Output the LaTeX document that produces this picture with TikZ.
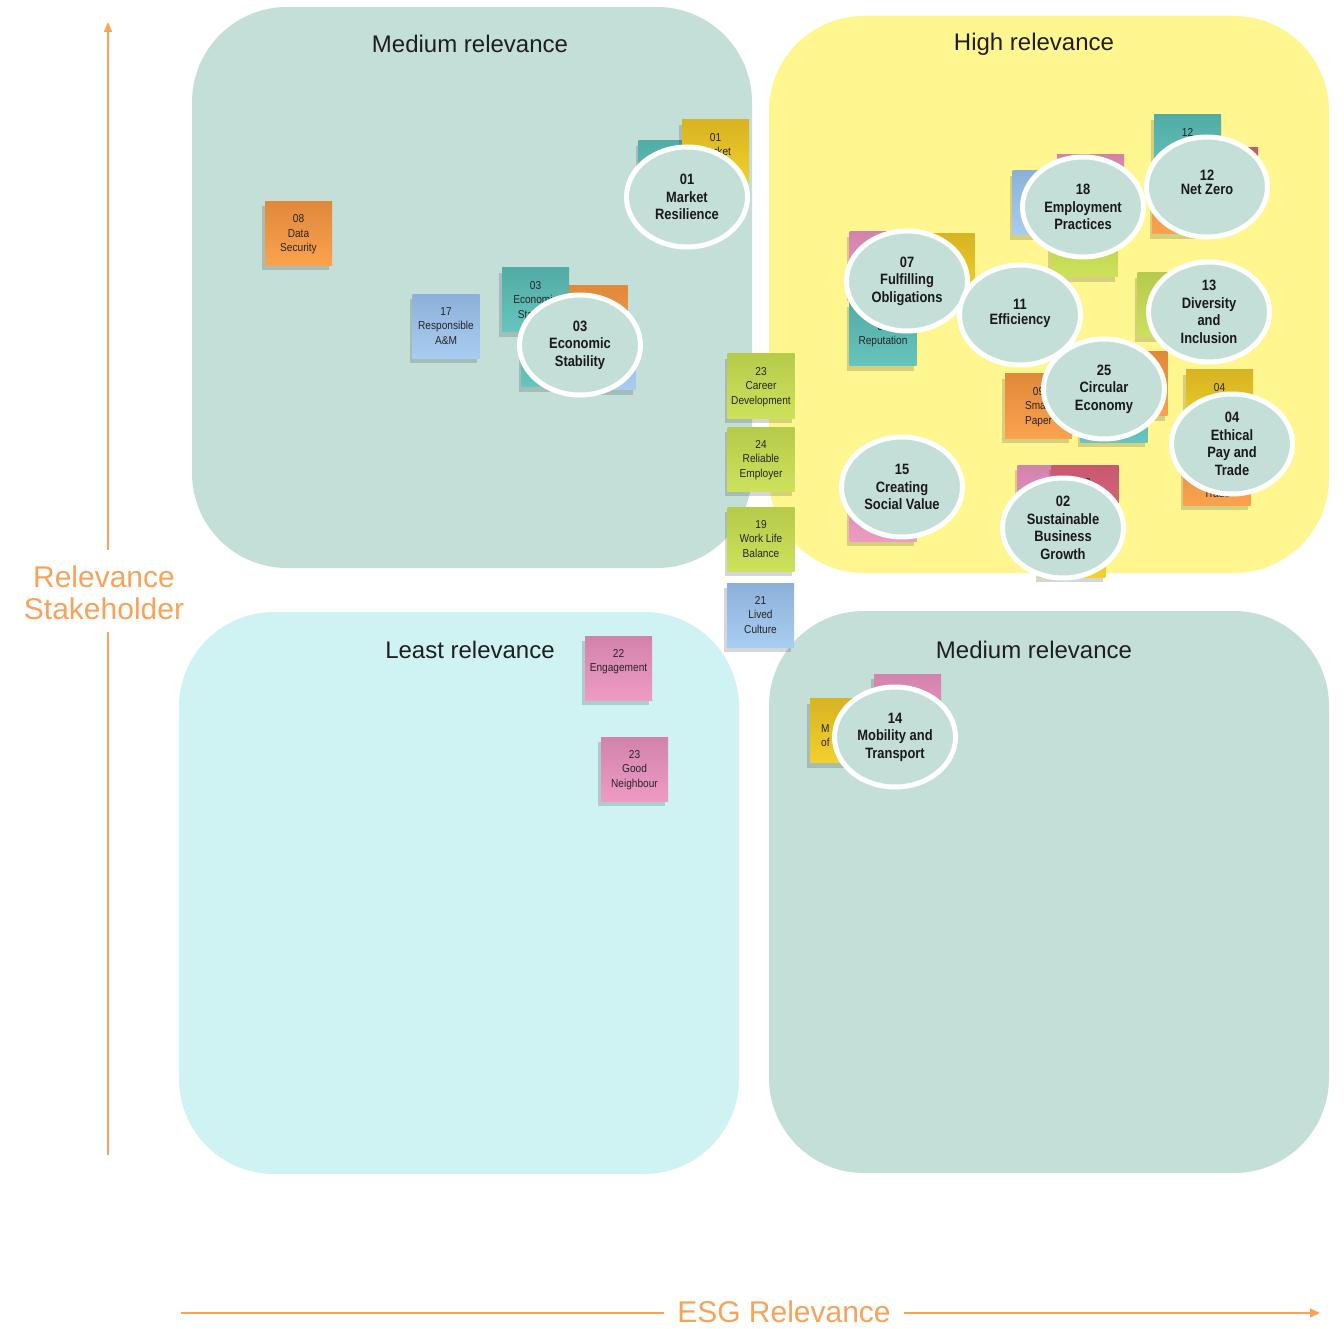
\documentclass[tikz,border=0pt]{standalone}
\usepackage{fontspec}
\setmainfont{Liberation Sans}
\newfontfamily\stfont[FakeStretch=0.88]{Liberation Sans}
\newfontfamily\cfont[FakeStretch=0.86]{Liberation Sans}
\usetikzlibrary{shapes.geometric,shadows,arrows.meta}
\definecolor{panelA}{HTML}{C3DFD8}
\definecolor{panelY}{HTML}{FFF68F}
\definecolor{panelC}{HTML}{CFF3F3}
\definecolor{circfill}{HTML}{C4DFD8}
\definecolor{axisor}{HTML}{F9A25A}
\definecolor{orTop}{HTML}{E0893B}\definecolor{orBot}{HTML}{FBA24E}
\definecolor{blTop}{HTML}{8DB0D8}\definecolor{blBot}{HTML}{A8CDF2}
\definecolor{teTop}{HTML}{52ACA6}\definecolor{teBot}{HTML}{66C5BE}
\definecolor{yeTop}{HTML}{D7B421}\definecolor{yeBot}{HTML}{F3D02D}
\definecolor{grTop}{HTML}{B5CB4A}\definecolor{grBot}{HTML}{CDE15B}
\definecolor{piTop}{HTML}{D283AC}\definecolor{piBot}{HTML}{EE9BC3}
\definecolor{reTop}{HTML}{C8586F}\definecolor{reBot}{HTML}{DE6883}
\tikzset{
  panel/.style={rounded corners=95pt},
  ptitle/.style={font=\fontsize{24}{28}\selectfont, text=black!88, inner sep=0},
  stickybox/.style={minimum width=67pt, minimum height=64pt, inner sep=0,
    drop shadow={shadow xshift=-3pt,shadow yshift=-5pt,opacity=.2,fill=black!80}},
  stickytext/.style={inner sep=0, align=center, text=black!85,
    font=\stfont\fontsize{11.5}{14.5}\selectfont},
  sor/.style={top color=orTop,bottom color=orBot},
  sbl/.style={top color=blTop,bottom color=blBot},
  ste/.style={top color=teTop,bottom color=teBot},
  sye/.style={top color=yeTop,bottom color=yeBot},
  sgr/.style={top color=grTop,bottom color=grBot},
  spi/.style={top color=piTop,bottom color=piBot},
  sre/.style={top color=reTop,bottom color=reBot},
  circ/.style={ellipse, draw=white, line width=5pt, fill=circfill,
    minimum width=121pt, minimum height=100pt, inner sep=0, align=center,
    font=\cfont\bfseries\fontsize{15}{17.5}\selectfont, text=black!90},
  axislbl/.style={text=axisor, inner sep=0, align=center,
    font=\fontsize{30}{32}\selectfont},
  axisline/.style={draw=axisor, line width=1.4pt},
}
\newcommand\stk[5]{%
  \node[stickybox,#4] (#1) at (#2,#3) {};
  \node[stickytext, anchor=north] (#1t) at ([yshift=-13pt]#1.north) {#5};}
\newcommand\stkb[4]{%
  \node[stickybox,#4] (#1) at (#2,#3) {};}

\begin{document}
\begin{tikzpicture}[x=1pt,y=-1pt]
\useasboundingbox (0,0) rectangle (1344,1329);
\fill[white] (0,0) rectangle (1344,1329);

% panels
\fill[panel, panelA] (192,7) rectangle (752,568);
\fill[panel, panelY] (769,16) rectangle (1329,573);
\fill[panel, panelC] (179,612) rectangle (739,1174);
\fill[panel, panelA] (769,611) rectangle (1329,1173);
\node[ptitle] (t1) at (470,44) {Medium relevance};
\node[ptitle] (t2) at (1034,44) {High relevance};
\node[ptitle] (t3) at (470,650) {Least relevance};
\node[ptitle] (t4) at (1034,650) {Medium relevance};

% axes
\node[axislbl] (ylab) at (104,593) {Relevance\\Stakeholder};
\node[axislbl] (xlab) at (784,1312) {ESG Relevance};
\coordinate (ybot) at (108,1155);
\coordinate (ylo) at (108,632);
\coordinate (yhi) at (108,550);
\coordinate (ytop) at (108,22);
\coordinate (xl) at (181,1313);
\coordinate (xm1) at (664,1313);
\coordinate (xm2) at (904,1313);
\coordinate (xr) at (1320,1313);
\draw[axisline] (ybot) -- (ylo);
\draw[axisline, -{Triangle[length=10pt,width=8pt]}] (yhi) -- (ytop);
\draw[axisline] (xl) -- (xm1);
\draw[axisline, -{Triangle[length=10pt,width=9pt]}] (xm2) -- (xr);

% ---- top-left stickies
\stk{s08}{298.5}{233.5}{sor}{08\\Data\\Security}
\stk{s17}{446}{326.5}{sbl}{17\\Responsible\\A\&M}
\stkb{s03o}{594}{318}{sor}
\stkb{s03b}{602}{358}{sbl}
\stkb{s03t}{555}{355}{ste}
\stk{s03}{535.5}{300}{ste}{03\\Economic\\Stability}
\stkb{s01t}{672}{173}{ste}
\stk{s01}{715.5}{152}{sye}{01\\Market}

% ---- middle column
\stk{s23c}{761}{386}{sgr}{23\\Career\\Development}
\stk{s24}{761}{459}{sgr}{24\\Reliable\\Employer}
\stk{s19}{761}{539}{sgr}{19\\Work Life\\Balance}
\stk{s21}{760.5}{615}{sbl}{21\\Lived\\Culture}

% ---- bottom-left
\stk{s22}{618.5}{668}{spi}{22\\Engagement}
\stk{s23g}{634.5}{769}{spi}{23\\Good\\Neighbour}

% ---- bottom-right
\stkb{s14y}{843.5}{730.5}{sye}
\node[stickytext, align=left, anchor=north west] (s14yt) at (821,724) {M\\of};
\stkb{s14p}{907.5}{706}{spi}

% ---- top-right stickies
\stkb{b18}{1046}{203}{sbl}
\stkb{p18}{1090.5}{187}{spi}
\stkb{g18}{1084.5}{245}{sgr}
\stkb{r12}{1224.5}{180}{sre}
\stkb{o12}{1186}{202}{sor}
\stk{t12}{1187.5}{147}{ste}{12}
\stkb{p07}{883}{264}{spi}
\stkb{y07}{941}{266}{sye}
\node[stickybox,ste] (t07) at (883,334) {};
\node[stickytext, anchor=north] (t07t) at ([yshift=-20pt]t07.north) {06\\Reputation};
\stkb{g13}{1171}{305}{sgr}
\stkb{o25}{1134}{384}{sor}
\stkb{t25}{1114}{410}{ste}
\stk{s09}{1038.5}{406}{sor}{09\\Smart\\Paper}
\stk{y04}{1219.5}{402}{sye}{04\\Ethical}
\node[stickybox,sor] (o04) at (1217,473) {};
\node[stickytext, anchor=south] (o04t) at ([yshift=7pt]o04.south) {Trade};
\stkb{p15}{883}{509}{spi}
\stkb{y02}{1072}{545}{sye}
\stk{p02}{1051}{497}{spi}{02}
\stk{r02}{1085}{497}{sre}{02}

% ---- circles
\node[circ] (c01) at (687,197) {01\\Market\\Resilience};
\node[circ] (c03) at (580,345) {03\\Economic\\Stability};
\node[circ] (c14) at (895,737) {14\\Mobility and\\Transport};
\node[circ] (c07) at (907,281) {07\\Fulfilling\\Obligations};
\node[circ] (c11) at (1020,315) {\raisebox{7pt}{\shortstack{11\\[1pt]Efficiency}}};
\node[circ] (c18) at (1083,207) {18\\Employment\\Practices};
\node[circ] (c12) at (1207,187) {\raisebox{10pt}{\shortstack{12\\[1pt]Net Zero}}};
\node[circ] (c13) at (1209,312) {13\\Diversity\\and\\Inclusion};
\node[circ] (c25) at (1104,389) {25\\Circular\\Economy};
\node[circ] (c04) at (1232,444) {04\\Ethical\\Pay and\\Trade};
\node[circ] (c15) at (902,487) {15\\Creating\\Social Value};
\node[circ] (c02) at (1063,528) {02\\Sustainable\\Business\\Growth};
\end{tikzpicture}
\end{document}
